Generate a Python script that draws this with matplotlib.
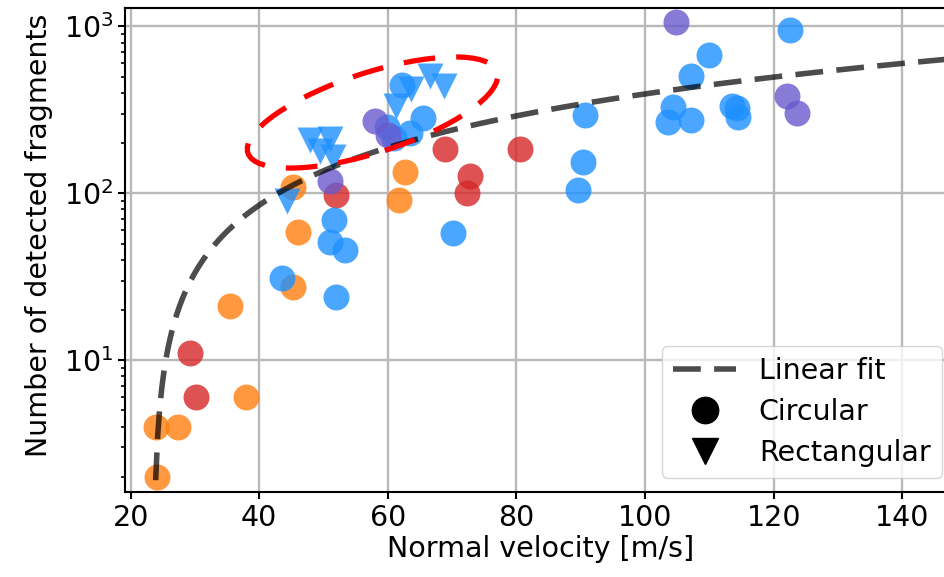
import numpy as np
import matplotlib
matplotlib.use('Agg')
import matplotlib.pyplot as plt
from matplotlib.lines import Line2D
from matplotlib.patches import Ellipse

# Values
orange_v = [24.1, 23.9, 27.3, 35.5, 37.9, 45.2, 46.1, 45.2, 62.7, 61.8]
orange_n = [2, 4, 4, 21, 6, 109, 59, 27.5, 135, 91]

red_v = [29.3, 30.2, 52.0, 68.9, 72.8, 72.3, 80.6]
red_n = [11, 6, 98, 185, 127, 101, 185]

blue_v = [43.5, 51.0, 51.6, 53.3, 52.0, 70.2, 62.2, 65.5, 63.4, 59.8, 61.0,
          89.6, 90.3, 90.7, 103.6, 104.3, 107.1, 107.2, 110.0, 113.5, 114.3,
          114.5, 122.6]
blue_n = [31, 51, 69, 46, 24, 58, 447, 282, 230, 250, 215,
          105, 155, 295, 266, 328, 276, 506, 676, 335, 325,
          287, 950]

purple_v = [51.0, 58.0, 60.0, 104.8, 122.1, 123.7]
purple_n = [119, 270, 225, 1070, 384, 302]

rect_v = [44.3, 47.9, 51.0, 49.5, 51.5, 61.3, 63.6, 66.6, 68.8]
rect_n = [90, 210, 212, 180, 165, 335, 420, 505, 440]

# linear fit n = a * (v - v0)
fit_a = 5.155
fit_v0 = 23.53
fit_start, fit_end = 23.9, 150

plt.rcParams['font.family'] = ['DejaVu Sans']
fs = 20.5

fig = plt.figure(figsize=(9.44, 5.77), dpi=100)
ax = fig.add_axes([0.1324, 0.1473, 0.8803, 0.8388])

ms = 350
ax.scatter(orange_v, orange_n, s=ms, color='tab:orange', alpha=0.8, lw=0, zorder=2)
ax.scatter(red_v, red_n, s=ms, color='tab:red', alpha=0.8, lw=0, zorder=2)
ax.scatter(blue_v, blue_n, s=ms, color='dodgerblue', alpha=0.8, lw=0, zorder=2)
ax.scatter(purple_v, purple_n, s=ms, color='slateblue', alpha=0.8, lw=0, zorder=2)
ax.scatter(rect_v, rect_n, s=ms, marker='v', color='dodgerblue', alpha=0.8, lw=0, zorder=2)

vf = np.linspace(fit_start, fit_end, 400)
ax.plot(vf, fit_a * (vf - fit_v0), color='k', alpha=0.7, lw=4,
        linestyle=(0, (5, 2.4)), zorder=3)

ax.set_yscale('log')
ax.set_xlim(19.13, 148.35)
ax.set_ylim(1.62, 1290)
ax.set_xticks([20, 40, 60, 80, 100, 120, 140])
ax.grid(True, which='major', color='#b8b8b8', lw=1.7)
ax.set_axisbelow(True)
for s in ax.spines.values():
    s.set_linewidth(1.5)
ax.tick_params(labelsize=fs, width=1.5, length=5)
ax.tick_params(which='minor', width=1.2, length=3)
ax.set_xlabel('Normal velocity [m/s]', fontsize=fs, labelpad=2)
ax.set_ylabel('Number of detected fragments', fontsize=fs, labelpad=8)
ax.yaxis.label.set_y(0.531)

# red dashed ellipse round the rectangular group
ell = Ellipse((3.725, 4.645), 2.62, 0.8, angle=18, fill=False,
              edgecolor='red', lw=3.8, linestyle=(0, (6, 4)),
              transform=fig.dpi_scale_trans, zorder=5)
fig.patches.append(ell)

handles = [
    Line2D([], [], color='k', alpha=0.7, lw=4, linestyle=(0, (5, 2.4))),
    Line2D([], [], color='k', marker='o', linestyle='none', markersize=19),
    Line2D([], [], color='k', marker='v', linestyle='none', markersize=19),
]
ax.legend(handles, ['Linear fit', 'Circular', 'Rectangular'], fontsize=fs,
          loc='lower right', bbox_to_anchor=(942 / 944, 99 / 577),
          bbox_transform=fig.transFigure, borderaxespad=0,
          handlelength=2.2, labelspacing=0.45)

fig.savefig('out.png', dpi=100)
